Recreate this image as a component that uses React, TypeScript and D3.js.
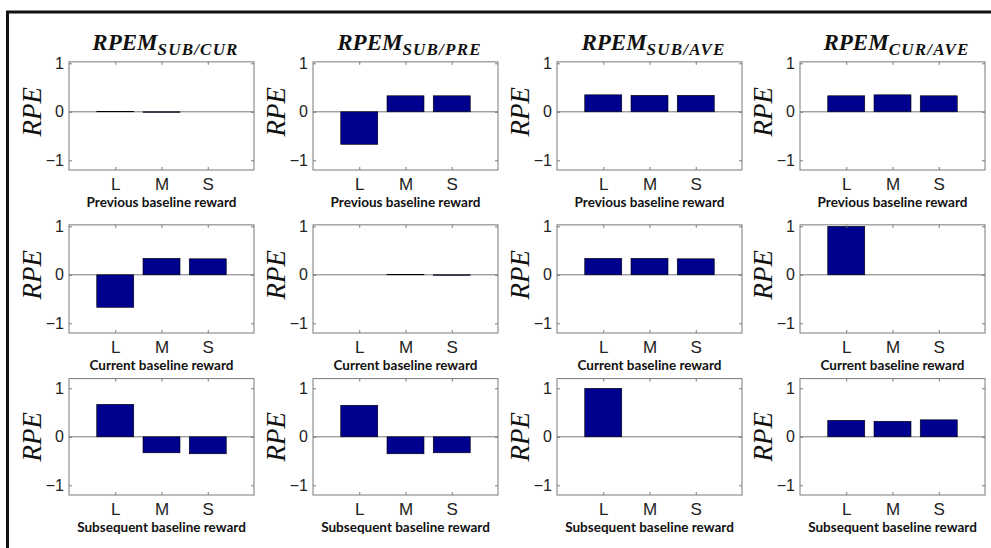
import { useEffect, useRef } from 'react';
import * as d3 from 'd3';

// category labels and panel texts
const categories = ['L', 'M', 'S'];
const modelSubs = ['SUB/CUR', 'SUB/PRE', 'SUB/AVE', 'CUR/AVE'];
const rowLabels = ['Previous baseline reward', 'Current baseline reward', 'Subsequent baseline reward'];
const yTicks = [-1, 0, 1];

// RPE values per column (model), one array per row
const previousValues = [
  [0.01, -0.01, 0],
  [-0.67, 0.33, 0.33],
  [0.35, 0.34, 0.34],
  [0.33, 0.35, 0.33],
];
const currentValues = [
  [-0.67, 0.34, 0.33],
  [0, 0.01, -0.01],
  [0.34, 0.34, 0.33],
  [1, 0, 0],
];
const subsequentValues = [
  [0.67, -0.33, -0.35],
  [0.65, -0.35, -0.33],
  [1, 0, 0],
  [0.34, 0.32, 0.35],
];
const rowsData = [previousValues, currentValues, subsequentValues];
const yMaxByRow = [1.03, 1.03, 1.2];
const yMin = -1.2;

export default function App() {
  const svgRef = useRef<SVGSVGElement>(null);

  useEffect(() => {
    if (!svgRef.current) return;
    const svg = d3.select(svgRef.current);
    svg.selectAll('*').remove();

    const width = 991;
    const height = 548;
    svg.attr('width', width).attr('height', height);

    svg.append('rect').attr('width', width).attr('height', height).attr('fill', '#fff');

    // outer frame (only top and left visible)
    svg.append('rect')
      .attr('x', 7.5).attr('y', 12)
      .attr('width', 1100).attr('height', 700)
      .attr('fill', 'none').attr('stroke', '#111').attr('stroke-width', 3);

    const colLefts = [69, 313, 557, 800];
    const axW = 185;
    const rowBottoms = [170, 333, 495];
    const unit = 48.5;
    const boxColor = '#7a7a7a';

    rowsData.forEach((rowVals, r) => {
      const bottom = rowBottoms[r];
      const top = bottom - (yMaxByRow[r] - yMin) * unit;

      rowVals.forEach((vals, c) => {
        const left = colLefts[c];
        const x = d3.scaleLinear().domain([0, 4]).range([left, left + axW]);
        const y = d3.scaleLinear().domain([yMin, yMaxByRow[r]]).range([bottom, top]);
        const g = svg.append('g');

        // zero line
        g.append('line')
          .attr('x1', left).attr('x2', left + axW)
          .attr('y1', y(0)).attr('y2', y(0))
          .attr('stroke', boxColor).attr('stroke-width', 1);

        // bars
        g.selectAll('rect.bar')
          .data(vals)
          .enter()
          .append('rect')
          .attr('class', 'bar')
          .attr('x', (_, i) => x(i + 1 - 0.4))
          .attr('width', x(0.8) - x(0))
          .attr('y', d => y(Math.max(0, d)))
          .attr('height', d => Math.abs(y(d) - y(0)))
          .attr('fill', '#00008f')
          .attr('stroke', '#000')
          .attr('stroke-width', 0.6);

        // y axes (left with labels, right ticks only)
        const yl = g.append('g')
          .attr('transform', `translate(${left},0)`)
          .call(d3.axisLeft(y).tickValues(yTicks).tickSize(-3).tickPadding(5)
            .tickFormat(d => (d as number) < 0 ? '\u2212' + Math.abs(d as number) : String(d)));
        g.append('g')
          .attr('transform', `translate(${left + axW},0)`)
          .call(d3.axisRight(y).tickValues(yTicks).tickSize(-3).tickFormat(() => ''));

        // x axes (bottom with labels, top ticks only)
        const xb = g.append('g')
          .attr('transform', `translate(0,${bottom})`)
          .call(d3.axisBottom(x).tickValues([1, 2, 3]).tickSize(-3).tickPadding(8)
            .tickFormat(d => categories[(d as number) - 1]));
        g.append('g')
          .attr('transform', `translate(0,${top})`)
          .call(d3.axisTop(x).tickValues([1, 2, 3]).tickSize(-3).tickFormat(() => ''));

        g.selectAll('.domain').remove();
        g.selectAll('.tick line').attr('stroke', boxColor);
        yl.selectAll('text')
          .style('font-family', '"Liberation Sans", Arial, sans-serif')
          .style('font-size', '16px').attr('fill', '#222');
        xb.selectAll('text')
          .style('font-family', '"Liberation Sans", Arial, sans-serif')
          .style('font-size', '17px').attr('fill', '#222');

        // axes box
        g.append('rect')
          .attr('x', left).attr('y', top)
          .attr('width', axW).attr('height', bottom - top)
          .attr('fill', 'none').attr('stroke', boxColor).attr('stroke-width', 1);

        // x label
        g.append('text')
          .attr('x', left + axW / 2).attr('y', bottom + 36.5)
          .attr('text-anchor', 'middle')
          .style('font-family', 'Lato, "Open Sans", sans-serif')
          .style('font-weight', 'bold').style('font-size', '13.5px')
          .attr('fill', '#111')
          .text(rowLabels[r]);

        // y label
        g.append('text')
          .attr('transform', `translate(${left - 28},${y(0)}) rotate(-90)`)
          .attr('text-anchor', 'middle')
          .style('font-family', '"Liberation Serif", "DejaVu Serif", serif')
          .style('font-style', 'italic').style('font-size', '27px')
          .attr('fill', '#111')
          .text('RPE');

        // column titles on first row
        if (r === 0) {
          const t = svg.append('text')
            .attr('x', left + axW / 2 + 4).attr('y', 50)
            .attr('text-anchor', 'middle')
            .style('font-family', '"Liberation Serif", "DejaVu Serif", serif')
            .style('font-style', 'italic').style('font-weight', 'bold')
            .attr('fill', '#111');
          t.append('tspan').style('font-size', '23px').text('RPEM');
          t.append('tspan').attr('dy', 5).style('font-size', '17px')
            .style('letter-spacing', '1.2px').text(modelSubs[c]);
        }
      });
    });
  }, []);

  return (
    <div style={{ position: 'fixed', left: 0, top: 0 }}>
      <svg ref={svgRef}></svg>
    </div>
  );
}
